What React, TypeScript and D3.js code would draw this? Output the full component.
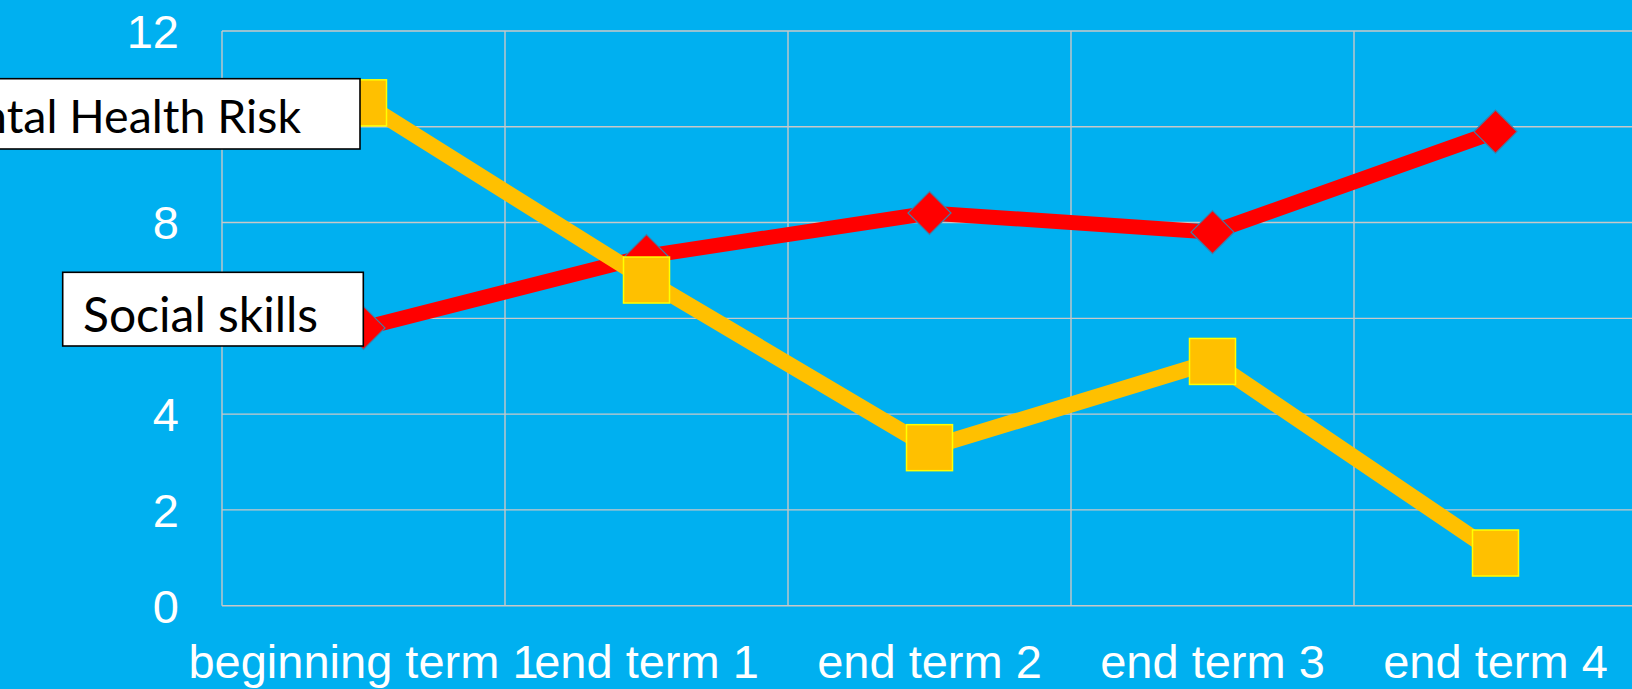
import React from "react";
import * as d3 from "d3";

const categories = ["beginning term 1", "end term 1", "end term 2", "end term 3", "end term 4"];
const socialSkills = [5.8, 7.3, 8.2, 7.8, 9.9];
const mentalHealthRisk = [10.5, 6.8, 3.3, 5.1, 1.1];
const yTicks = [0, 2, 4, 6, 8, 10, 12];
const yTickLabels = ["0", "2", "4", "", "8", "", "12"];

const W = 1632;
const H = 689;

export default function App() {
  const x = d3.scaleBand<string>().domain(categories).range([222, 1637]);
  const y = d3.scaleLinear().domain([0, 12]).range([605.7, 31]);
  const cx = (c: string) => (x(c) as number) + x.bandwidth() / 2;

  const line = d3
    .line<number>()
    .x((_, i) => cx(categories[i]))
    .y((d) => y(d));

  const bgColor = "#00B0F0";
  const gridColor = "#C8C8C8";
  const labelFont = "'Liberation Sans', Arial, sans-serif";
  const boxFont = "Lato, 'Open Sans', sans-serif";

  const dHalf = 21.5;
  const sq = 46;

  return (
    <svg
      width={W}
      height={H}
      style={{ position: "absolute", left: 0, top: 0, display: "block" }}
    >
      <rect x={0} y={0} width={W} height={H} fill={bgColor} />
      {yTicks.map((t) => (
        <line
          key={"h" + t}
          x1={222}
          x2={W}
          y1={y(t)}
          y2={y(t)}
          stroke={gridColor}
          strokeWidth={1.4}
        />
      ))}
      {categories.map((c) => (
        <line
          key={"v" + c}
          x1={x(c) as number}
          x2={x(c) as number}
          y1={y(12)}
          y2={y(0)}
          stroke={gridColor}
          strokeWidth={1.4}
        />
      ))}
      {yTicks.map((t, i) => (
        <text
          key={"yl" + t}
          x={179}
          y={y(t)}
          dy="0.36em"
          textAnchor="end"
          fontFamily={labelFont}
          fontSize={47}
          fill="#FFFFFF"
        >
          {yTickLabels[i]}
        </text>
      ))}
      {categories.map((c) => (
        <text
          key={"xl" + c}
          x={cx(c)}
          y={677.7}
          textAnchor="middle"
          fontFamily={labelFont}
          fontSize={47}
          fill="#FFFFFF"
        >
          {c}
        </text>
      ))}
      <path d={line(socialSkills) || ""} fill="none" stroke="#FF0000" strokeWidth={15} />
      {socialSkills.map((v, i) => {
        const px = cx(categories[i]);
        const py = y(v);
        return (
          <path
            key={"d" + i}
            d={`M${px},${py - dHalf}L${px + dHalf},${py}L${px},${py + dHalf}L${px - dHalf},${py}Z`}
            fill="#FF0000"
            stroke="#3F7FA8"
            strokeWidth={1.2}
          />
        );
      })}
      <path d={line(mentalHealthRisk) || ""} fill="none" stroke="#FFC000" strokeWidth={16} />
      {mentalHealthRisk.map((v, i) => {
        const px = cx(categories[i]);
        const py = y(v);
        return (
          <rect
            key={"s" + i}
            x={px - sq / 2}
            y={py - sq / 2}
            width={sq}
            height={sq}
            fill="#FFC000"
            stroke="#FFFF00"
            strokeWidth={1.5}
          />
        );
      })}
      <rect x={-20} y={78.7} width={380} height={70.3} fill="#FFFFFF" stroke="#000000" strokeWidth={1.6} />
      <text x={301} y={133.3} textAnchor="end" fontFamily={boxFont} fontSize={46.5} fill="#000000">
        Mental Health Risk
      </text>
      <rect x={62.7} y={272.3} width={300.6} height={73.7} fill="#FFFFFF" stroke="#000000" strokeWidth={1.6} />
      <text x={83} y={332.3} textAnchor="start" fontFamily={boxFont} fontSize={48} fill="#000000">
        Social skills
      </text>
    </svg>
  );
}
